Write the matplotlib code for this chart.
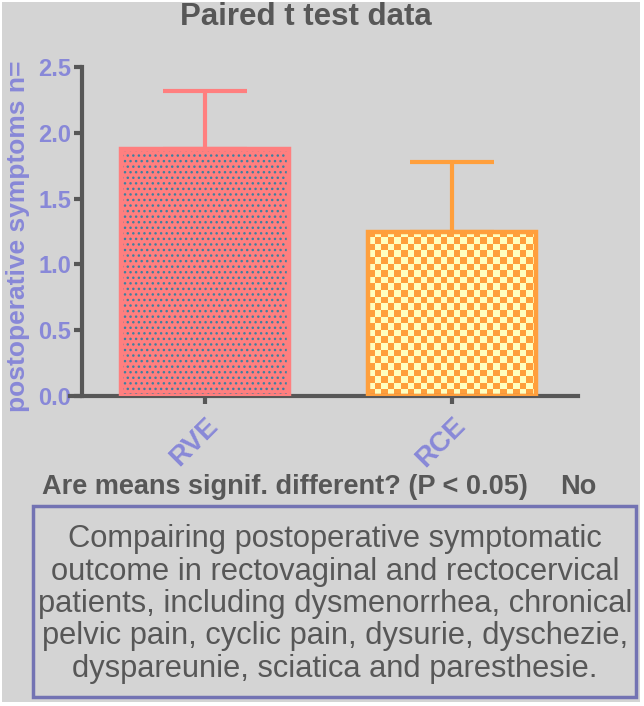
import numpy as np
import matplotlib
matplotlib.use("Agg")
import matplotlib.pyplot as plt
from matplotlib.patches import Rectangle
from matplotlib.colors import ListedColormap

plt.rcParams['font.family'] = ['Liberation Sans', 'DejaVu Sans']

# data
groups = ['RVE', 'RCE']
means = [1.875, 1.25]
sd_up = [0.44, 0.53]
yticks = [0.0, 0.5, 1.0, 1.5, 2.0, 2.5]

bar_cols = ['#ff7f7f', '#ff9f3c']
dark = '#575757'
lav = '#8888d8'

fig = plt.figure(figsize=(6.44, 7.06), dpi=100, facecolor='white')
# gray canvas with thin white margin
fig.patches.append(Rectangle((2/644, 4/706), 638/644, 700/706, transform=fig.transFigure,
                             facecolor='#d4d4d4', edgecolor='none', zorder=-10))

ax = fig.add_axes([70/644, 1 - 396/706, 508/644, 329/706])
ax.set_facecolor('none')
x = np.arange(len(groups))
w = 0.68

# bar fills with texture
ax.bar(x[0], means[0], w, color=bar_cols[0], edgecolor='#3f7f9f', hatch='...',
       linewidth=0, zorder=2)
b2 = ax.bar(x[1], means[1], w, color='#ffffc0', linewidth=0, zorder=2)
# checkerboard texture for RCE, clipped to the bar
p = b2[0]
n = 40
chk = (np.add.outer(np.arange(n), np.arange(n)) % 2).astype(float)
im = ax.imshow(chk, cmap=ListedColormap(['#ffffc0', bar_cols[1]]), interpolation='nearest',
               extent=[p.get_x(), p.get_x() + n * 6.6 / 247, 0, n * 6.6 / 131.6],
               aspect='auto', zorder=2.5)
im.set_clip_path(p)
# bar outlines
ax.bar(x, means, w, fill=False, edgecolor=bar_cols, linewidth=3.2, zorder=3)

# upper error bars only
for i in range(len(groups)):
    ax.errorbar(x[i], means[i], yerr=[[0], [sd_up[i]]], fmt='none', ecolor=bar_cols[i],
                elinewidth=3, capsize=30, capthick=3, zorder=1)

ax.set_xlim(-0.547, 1.51)
ax.set_ylim(0, 2.5)
ax.set_yticks(yticks)
ax.set_yticklabels([f'{v:.1f}' for v in yticks])
ax.set_xticks(x)
ax.set_xticklabels(groups, rotation=45, ha='right', rotation_mode='anchor')

for s in ['top', 'right']:
    ax.spines[s].set_visible(False)
ax.spines['left'].set_position(('data', -0.498))
for s in ['left', 'bottom']:
    ax.spines[s].set_color(dark)
    ax.spines[s].set_linewidth(3)
ax.tick_params(axis='both', colors=dark, width=3, length=6, labelcolor=lav,
               labelsize=17)
for lab in ax.get_xticklabels() + ax.get_yticklabels():
    lab.set_fontweight('bold')
for lab in ax.get_xticklabels():
    lab.set_fontsize(20)
ax.tick_params(axis='y', pad=2)
ax.tick_params(axis='x', pad=6)

fig.text(306/644, 1 - 17/706, 'Paired t test data', ha='center', va='center',
         fontsize=22.5, fontweight='bold', color=dark)
fig.text(18/644, 1 - 236/706, 'postoperative symptoms n=', rotation=90, ha='center',
         va='center', fontsize=19, fontweight='bold', color=lav)
fig.text(42/644, 1 - 487/706, 'Are means signif. different? (P < 0.05)', ha='left',
         va='center', fontsize=19.5, fontweight='bold', color=dark)
fig.text(560/644, 1 - 487/706, 'No', ha='left', va='center', fontsize=19.5,
         fontweight='bold', color=dark)

# note box
fig.patches.append(Rectangle((33/644, 1 - 697/706), 603/644, 191/706,
                             transform=fig.transFigure, facecolor='none',
                             edgecolor='#7373b3', linewidth=2.5))
note = ('Compairing postoperative symptomatic\n'
        'outcome in rectovaginal and rectocervical\n'
        'patients, including dysmenorrhea, chronical\n'
        'pelvic pain, cyclic pain, dysurie, dyschezie,\n'
        'dyspareunie, sciatica and paresthesie.')
fig.text(335/644, 1 - 604/706, note, ha='center', va='center', fontsize=22.2,
         color=dark, linespacing=1.1)

fig.savefig('out.png', dpi=100, facecolor=fig.get_facecolor())
